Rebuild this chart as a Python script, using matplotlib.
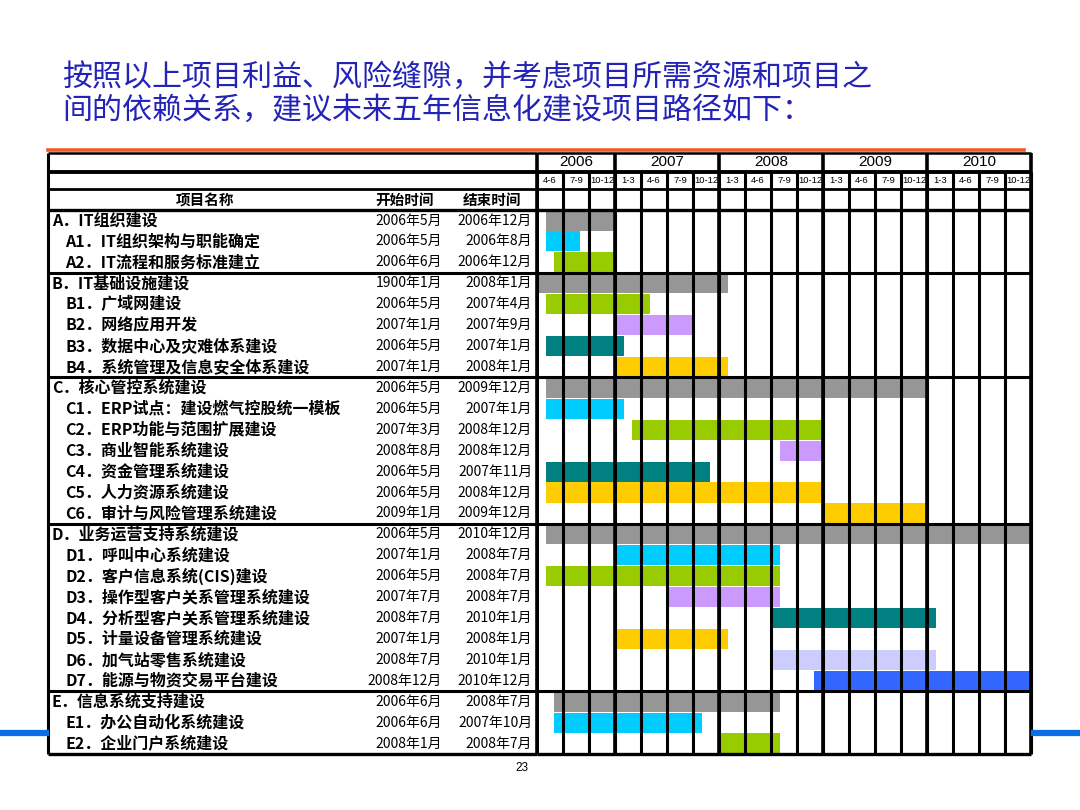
import re
import matplotlib.pyplot as plt
from matplotlib.lines import Line2D

plt.rcParams['font.family'] = ['Noto Sans CJK SC', 'DejaVu Sans']

# 项目数据
names = [
    "A．IT组织建设", "A1．IT组织架构与职能确定", "A2．IT流程和服务标准建立",
    "B．IT基础设施建设", "B1．广域网建设", "B2．网络应用开发",
    "B3．数据中心及灾难体系建设", "B4．系统管理及信息安全体系建设",
    "C．核心管控系统建设", "C1．ERP试点：建设燃气控股统一模板",
    "C2．ERP功能与范围扩展建设", "C3．商业智能系统建设", "C4．资金管理系统建设",
    "C5．人力资源系统建设", "C6．审计与风险管理系统建设",
    "D．业务运营支持系统建设", "D1．呼叫中心系统建设", "D2．客户信息系统(CIS)建设",
    "D3．操作型客户关系管理系统建设", "D4．分析型客户关系管理系统建设",
    "D5．计量设备管理系统建设", "D6．加气站零售系统建设", "D7．能源与物资交易平台建设",
    "E．信息系统支持建设", "E1．办公自动化系统建设", "E2．企业门户系统建设",
]
start_dates = [
    "2006年5月", "2006年5月", "2006年6月",
    "1900年1月", "2006年5月", "2007年1月", "2006年5月", "2007年1月",
    "2006年5月", "2006年5月", "2007年3月", "2008年8月", "2006年5月", "2006年5月", "2009年1月",
    "2006年5月", "2007年1月", "2006年5月", "2007年7月", "2008年7月", "2007年1月", "2008年7月", "2008年12月",
    "2006年6月", "2006年6月", "2008年1月",
]
end_dates = [
    "2006年12月", "2006年8月", "2006年12月",
    "2008年1月", "2007年4月", "2007年9月", "2007年1月", "2008年1月",
    "2009年12月", "2007年1月", "2008年12月", "2008年12月", "2007年11月", "2008年12月", "2009年12月",
    "2010年12月", "2008年7月", "2008年7月", "2008年7月", "2010年1月", "2008年1月", "2010年1月", "2010年12月",
    "2008年7月", "2007年10月", "2008年7月",
]
years = ["2006", "2007", "2008", "2009", "2010"]
quarters = ["4-6", "7-9", "10-12"] + ["1-3", "4-6", "7-9", "10-12"] * 4

# 颜色
GRAY, CYAN, GREEN, LAV = "#969696", "#00CCFF", "#99CC00", "#CC99FF"
TEAL, GOLD, LLAV, BLUE = "#008080", "#FFCC00", "#CCCCFF", "#3366FF"
bar_colors = [
    GRAY, CYAN, GREEN,
    GRAY, GREEN, LAV, TEAL, GOLD,
    GRAY, CYAN, GREEN, LAV, TEAL, GOLD, GOLD,
    GRAY, CYAN, GREEN, LAV, TEAL, GOLD, LLAV, BLUE,
    GRAY, CYAN, GREEN,
]


def month_index(s, end=False):
    # 2006年4月を0とする月インデックス
    y, m = map(int, re.findall(r"\d+", s))
    idx = (y - 2006) * 12 + m - 4 + (1 if end else 0)
    return max(idx, 0)


W, H = 1080, 810
fig = plt.figure(figsize=(10.8, 8.1), dpi=100)


def box(x0, y0, x1, y1):
    return [x0 / W, 1 - y1 / H, (x1 - x0) / W, (y1 - y0) / H]


ax_t = fig.add_axes(box(48, 153, 537, 754))
ax_g = fig.add_axes(box(537, 153, 1031, 754))

n = len(names)
n_months = 3 * len(quarters)
y_top, y_year, y_q = -2.725, -1.817, -1.0

for ax in (ax_t, ax_g):
    ax.set_ylim(n, y_top)
    ax.axis("off")
ax_t.set_xlim(0, 1)
ax_g.set_xlim(0, n_months)

# 甘特バー
lefts = [month_index(s) for s in start_dates]
rights = [month_index(e, end=True) for e in end_dates]
ax_g.barh([i + 0.5 for i in range(n)], [r - l for l, r in zip(lefts, rights)],
          left=lefts, height=0.96, color=bar_colors, zorder=1)

# 縦線
q_edges = list(range(0, n_months + 1, 3))
ax_g.vlines(q_edges, y_year, n, color="k", lw=2.2, zorder=3, clip_on=False)
year_edges = [0] + [9 + 12 * k for k in range(len(years))]
ax_g.vlines(year_edges, y_top, n, color="k", lw=2.6, zorder=3, clip_on=False)
ax_t.vlines([0], y_top, n, color="k", lw=2.2, clip_on=False)

# 横線
hlines = [(y_top, 1.8), (y_year, 2.8), (y_q, 2.0), (0, 2.4),
          (3, 2.2), (8, 2.2), (15, 2.2), (23, 2.2), (n, 2.4)]
for y, lw in hlines:
    ax_t.hlines(y, 0, 1, color="k", lw=lw, clip_on=False, zorder=3)
    ax_g.hlines(y, 0, n_months, color="k", lw=lw, clip_on=False, zorder=3)

# 年・四半期ラベル
for k, yr in enumerate(years):
    x0 = year_edges[k]
    x1 = year_edges[k + 1]
    ax_g.text((x0 + x1) / 2, (y_top + y_year) / 2, yr, ha="center", va="center",
              fontsize=11, family="Liberation Sans")
for k, q in enumerate(quarters):
    ax_g.text(3 * k + 1.5, (y_year + y_q) / 2, q, ha="center", va="center",
              fontsize=6.8, family="Liberation Sans", clip_on=False)

# 表ヘッダー
ax_t.text(0.321, -0.5, "项目名称", ha="center", va="center", fontsize=10.5, fontweight="bold")
ax_t.text(0.73, -0.5, "开始时间", ha="center", va="center", fontsize=10.5, fontweight="bold")
ax_t.text(0.908, -0.5, "结束时间", ha="center", va="center", fontsize=10.5, fontweight="bold")

# 表の行
for i, (nm, s, e) in enumerate(zip(names, start_dates, end_dates)):
    section = nm[1] == "．"
    ax_t.text(0.008 if section else 0.035, i + 0.5, nm, ha="left", va="center",
              fontsize=11.5, fontweight="bold")
    ax_t.text(0.806, i + 0.5, s, ha="right", va="center", fontsize=10)
    ax_t.text(0.99, i + 0.5, e, ha="right", va="center", fontsize=10)

# タイトル
title_color = "#2323B8"
fig.text(62 / W, 1 - 77 / H, "按照以上项目利益、风险缝隙，并考虑项目所需资源和项目之",
         fontsize=21.6, color=title_color, va="center")
fig.text(62 / W, 1 - 110 / H, "间的依赖关系，建议未来五年信息化建设项目路径如下：",
         fontsize=21.6, color=title_color, va="center")

# 装飾線
fig.add_artist(Line2D([48 / W, 1024 / W], [1 - 150 / H] * 2, lw=2.6, color="#F05A28"))
fig.add_artist(Line2D([0, 46 / W], [1 - 733 / H] * 2, lw=4.5, color="#0A6EE6"))
fig.add_artist(Line2D([1034 / W, 1], [1 - 733 / H] * 2, lw=4.5, color="#0A6EE6"))

fig.text(522 / W, 1 - 768 / H, "23", ha="center", va="center", fontsize=8.5, family="Liberation Sans")

fig.savefig("out.png", dpi=100)
